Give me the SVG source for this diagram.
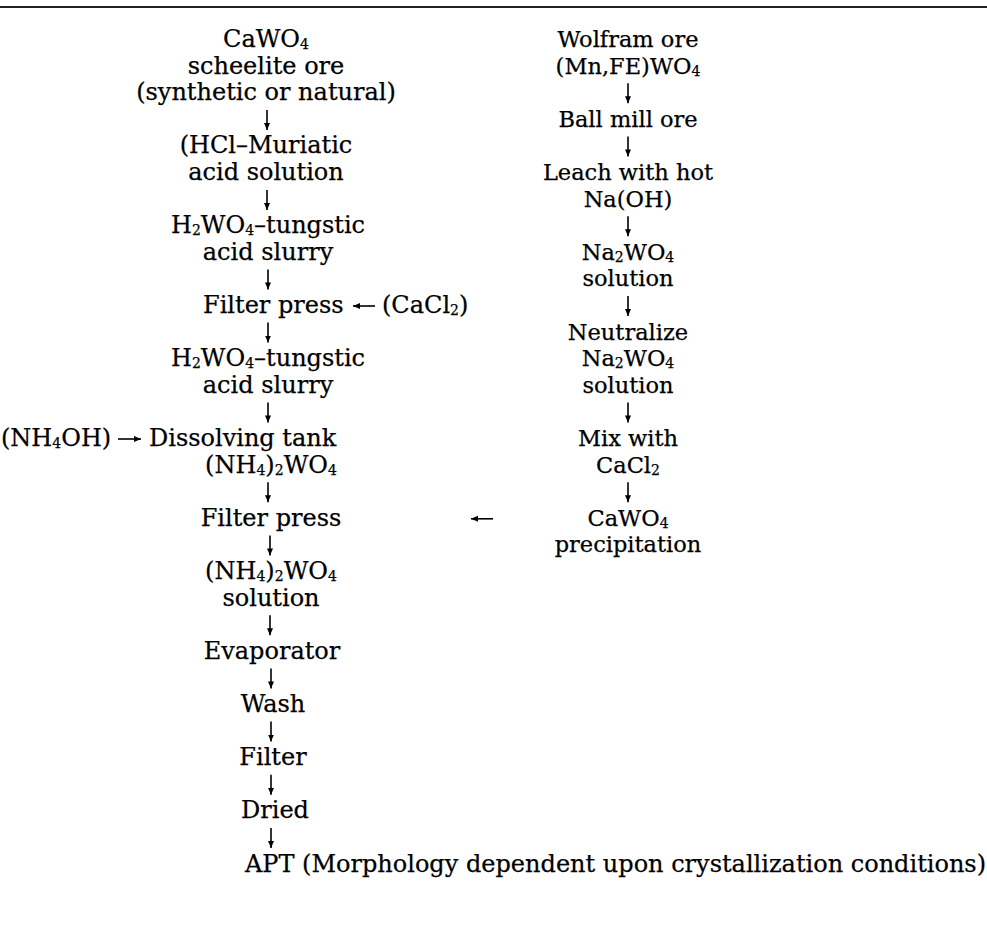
<svg xmlns="http://www.w3.org/2000/svg" width="987" height="934" viewBox="0 0 987 934">
<defs>
<marker id="ah" markerWidth="8" markerHeight="8" refX="7" refY="4" orient="auto" markerUnits="userSpaceOnUse"><path d="M0,1 L7,4 L0,7 Z" fill="#000"/></marker>
</defs>
<style>
text{font-family:"DejaVu Serif","Liberation Serif",serif;font-size:24px;fill:#000;stroke:#000;stroke-width:0.25;}
.r{font-size:22.5px}
.c{text-anchor:middle}
.s{font-size:14px}
.ar{stroke:#000;stroke-width:1.6;fill:none;marker-end:url(#ah)}
</style>
<rect width="987" height="934" fill="#fff"/>
<line x1="0" y1="7" x2="987" y2="7" stroke="#222" stroke-width="1.8"/>

<g id="n1">
<text class="c" x="266" y="47">CaWO<tspan class="s" dy="2">4</tspan></text>
<text class="c" x="266" y="73.6">scheelite ore</text>
<text class="c" x="266" y="100.2">(synthetic or natural)</text>
</g>
<g id="n2">
<text class="c" x="266" y="153.4">(HCl–Muriatic</text>
<text class="c" x="266" y="180">acid solution</text>
</g>
<g id="n3">
<text class="c" x="268" y="233.2">H<tspan class="s" dy="2">2</tspan><tspan dy="-2">WO</tspan><tspan class="s" dy="2">4</tspan><tspan dy="-2">–tungstic</tspan></text>
<text class="c" x="268" y="259.8">acid slurry</text>
</g>
<g id="n4"><text x="203" y="313">Filter press</text></g>
<g id="n5"><text x="382" y="313">(CaCl<tspan class="s" dy="2">2</tspan><tspan dy="-2">)</tspan></text></g>
<g id="n6">
<text class="c" x="268" y="366.2">H<tspan class="s" dy="2">2</tspan><tspan dy="-2">WO</tspan><tspan class="s" dy="2">4</tspan><tspan dy="-2">–tungstic</tspan></text>
<text class="c" x="268" y="392.8">acid slurry</text>
</g>
<g id="n7"><text x="1" y="446">(NH<tspan class="s" dy="2">4</tspan><tspan dy="-2">OH)</tspan></text></g>
<g id="n8">
<text x="149" y="446">Dissolving tank</text>
<text class="c" x="271" y="472.6">(NH<tspan class="s" dy="2">4</tspan><tspan dy="-2">)</tspan><tspan class="s" dy="2">2</tspan><tspan dy="-2">WO</tspan><tspan class="s" dy="2">4</tspan></text>
</g>
<g id="n9"><text class="c" x="271" y="525.8">Filter press</text></g>
<g id="n10">
<text class="c" x="271" y="579">(NH<tspan class="s" dy="2">4</tspan><tspan dy="-2">)</tspan><tspan class="s" dy="2">2</tspan><tspan dy="-2">WO</tspan><tspan class="s" dy="2">4</tspan></text>
<text class="c" x="271" y="605.6">solution</text>
</g>
<g id="n11"><text class="c" x="272" y="658.8">Evaporator</text></g>
<g id="n12"><text class="c" x="273" y="712">Wash</text></g>
<g id="n13"><text class="c" x="273" y="765.2">Filter</text></g>
<g id="n14"><text class="c" x="275" y="818.4">Dried</text></g>
<g id="n15"><text x="245" y="871.6">APT (Morphology dependent upon crystallization conditions)</text></g>

<g id="r1">
<text class="c r" x="628" y="47">Wolfram ore</text>
<text class="c r" x="628" y="73.6">(Mn,FE)WO<tspan class="s" dy="2">4</tspan></text>
</g>
<g id="r2"><text class="c r" x="628" y="126.8">Ball mill ore</text></g>
<g id="r3">
<text class="c r" x="628" y="180">Leach with hot</text>
<text class="c r" x="628" y="206.6">Na(OH)</text>
</g>
<g id="r4">
<text class="c r" x="628" y="259.8">Na<tspan class="s" dy="2">2</tspan><tspan dy="-2">WO</tspan><tspan class="s" dy="2">4</tspan></text>
<text class="c r" x="628" y="286.4">solution</text>
</g>
<g id="r5">
<text class="c r" x="628" y="339.6">Neutralize</text>
<text class="c r" x="628" y="366.2">Na<tspan class="s" dy="2">2</tspan><tspan dy="-2">WO</tspan><tspan class="s" dy="2">4</tspan></text>
<text class="c r" x="628" y="392.8">solution</text>
</g>
<g id="r6">
<text class="c r" x="628" y="446">Mix with</text>
<text class="c r" x="628" y="472.6">CaCl<tspan class="s" dy="2">2</tspan></text>
</g>
<g id="r7">
<text class="c r" x="628" y="525.8">CaWO<tspan class="s" dy="2">4</tspan></text>
<text class="c r" x="628" y="552.4">precipitation</text>
</g>

<g id="connectors">
<line class="ar" x1="267" y1="110" x2="267" y2="130"/>
<line class="ar" x1="267" y1="190" x2="267" y2="210"/>
<line class="ar" x1="268" y1="269.4" x2="268" y2="289.4"/>
<line class="ar" x1="268" y1="322.6" x2="268" y2="342.6"/>
<line class="ar" x1="268" y1="402.4" x2="268" y2="422.4"/>
<line class="ar" x1="268" y1="482.2" x2="268" y2="502.2"/>
<line class="ar" x1="270" y1="535.4" x2="270" y2="555.4"/>
<line class="ar" x1="270" y1="615.2" x2="270" y2="635.2"/>
<line class="ar" x1="271" y1="668.4" x2="271" y2="688.4"/>
<line class="ar" x1="271" y1="721.6" x2="271" y2="741.6"/>
<line class="ar" x1="271" y1="774.8" x2="271" y2="794.8"/>
<line class="ar" x1="271" y1="828" x2="271" y2="848"/>
<line class="ar" x1="375" y1="306" x2="353" y2="306"/>
<line class="ar" x1="118" y1="439" x2="141" y2="439"/>
<line class="ar" x1="493" y1="518.8" x2="471" y2="518.8"/>
<line class="ar" x1="628" y1="83.2" x2="628" y2="103.2"/>
<line class="ar" x1="628" y1="136.4" x2="628" y2="156.4"/>
<line class="ar" x1="628" y1="216.2" x2="628" y2="236.2"/>
<line class="ar" x1="628" y1="296" x2="628" y2="316"/>
<line class="ar" x1="628" y1="402.4" x2="628" y2="422.4"/>
<line class="ar" x1="628" y1="482.2" x2="628" y2="502.2"/>
</g>
</svg>
